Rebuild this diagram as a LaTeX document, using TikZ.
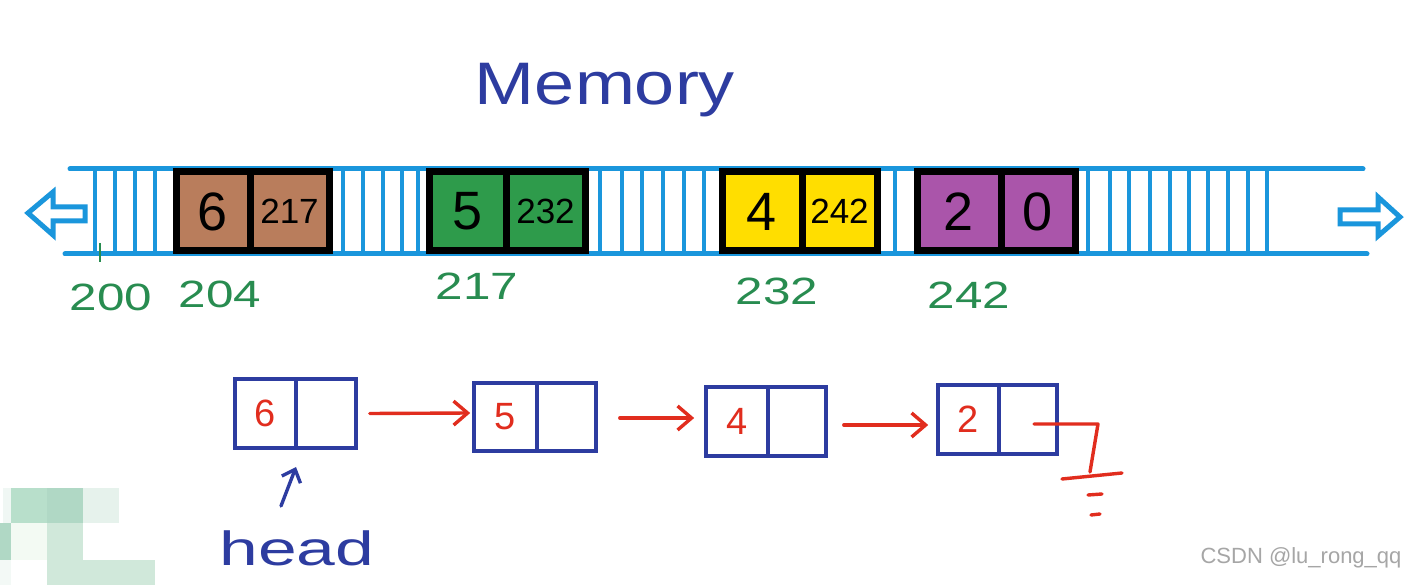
\documentclass[tikz,border=0pt]{standalone}
\usepackage{fontspec}
\setmainfont{Liberation Sans}
\usetikzlibrary{arrows.meta}
\definecolor{stripblue}{RGB}{26,150,220}
\definecolor{cbrown}{RGB}{185,125,92}
\definecolor{cgreen}{RGB}{46,155,75}
\definecolor{cyellow}{RGB}{255,222,0}
\definecolor{cpurple}{RGB}{170,85,170}
\definecolor{lblgreen}{RGB}{40,140,80}
\definecolor{dblue}{RGB}{45,60,160}
\definecolor{cred}{RGB}{225,45,30}
\definecolor{wm1}{RGB}{184,223,203}
\definecolor{wm2}{RGB}{176,216,197}
\definecolor{wm3}{RGB}{230,242,236}
\definecolor{wm4}{RGB}{208,232,218}
\definecolor{wm5}{RGB}{243,250,243}
\tikzset{
  stripline/.style={stripblue, line width=5pt, line cap=round},
  slot/.style={stripblue, line width=3.4pt},
  blockarrow/.style={stripblue, line width=5pt, fill=white, line join=miter},
  memcell/.style={draw=black, line width=7pt, rectangle, inner sep=0pt, minimum height=79pt,
     font=\fontsize{54}{54}\selectfont, text=black},
  ptrcell/.style={memcell, font=\fontsize{35}{35}\selectfont},
  addr/.style={text=lblgreen, font=\fontsize{38}{38}\selectfont, xscale=1.3},
  lcell/.style={draw=dblue, line width=3.6pt, rectangle, inner sep=0pt,
     font=\fontsize{38}{38}\selectfont, text=cred},
  redarrow/.style={cred, line width=3.4pt, line cap=round, -{Straight Barb[length=14pt,width=24pt,line width=3.4pt]}},
  redline/.style={cred, line width=3.4pt, line cap=round},
}
\begin{document}
\begin{tikzpicture}[x=1pt,y=-1pt]
\useasboundingbox (0,0) rectangle (1409,585);
\fill[white] (0,0) rectangle (1409,585);

% title
\node[text=dblue, font=\fontsize{60}{60}\selectfont, xscale=1.2, anchor=base] (title) at (605,105) {Memory};

% memory strip
\draw[stripline] (70,169) -- (1363,169);
\draw[stripline] (65,254) -- (1367,254);
\foreach \x in {95,115,135,155, 343,363,383,402,418, 600,622,642,663,684,704, 895,
                1088,1110,1129,1150,1170,1189,1208,1228,1248,1267}
  \draw[slot] (\x,169) -- (\x,254);
\draw[lblgreen, line width=2pt] (100,243) -- (100,262);

% block arrows
\draw[blockarrow] (85,207) -- (53,207) -- (53,192) -- (28,213) -- (53,235) -- (53,221) -- (85,221) -- cycle;
\draw[blockarrow] (1340,210) -- (1378,210) -- (1378,197) -- (1400,217) -- (1378,236) -- (1378,224) -- (1340,224) -- cycle;

% memory blocks
\node[memcell, fill=cbrown, minimum width=74pt] (m1a) at (213,211.5) {6};
\node[ptrcell, fill=cbrown, minimum width=79pt] (m1b) at (289.5,211.5) {217};
\node[memcell, fill=cgreen, minimum width=77pt] (m2a) at (467.5,211.5) {5};
\node[ptrcell, fill=cgreen, minimum width=79pt] (m2b) at (545.5,211.5) {232};
\node[memcell, fill=cyellow, minimum width=80pt] (m3a) at (762,211.5) {4};
\node[ptrcell, fill=cyellow, minimum width=75pt] (m3b) at (839.5,211.5) {242};
\node[memcell, fill=cpurple, minimum width=84pt] (m4a) at (959,211.5) {2};
\node[memcell, fill=cpurple, minimum width=74pt] (m4b) at (1038,211.5) {0};

% addresses
\node[addr] (a200) at (111,297) {200};
\node[addr] (a204) at (220,294) {204};
\node[addr] (a217) at (477,286) {217};
\node[addr] (a232) at (777,291) {232};
\node[addr] (a242) at (969,295) {242};

% linked list
\node[lcell, minimum width=61pt, minimum height=69pt] (n1a) at (265.5,413.5) {6};
\node[lcell, minimum width=60pt, minimum height=69pt] (n1b) at (326,413.5) {};
\node[lcell, minimum width=63pt, minimum height=68pt] (n2a) at (505.5,417) {5};
\node[lcell, minimum width=59pt, minimum height=68pt] (n2b) at (566.5,417) {};
\node[lcell, minimum width=62pt, minimum height=69pt] (n3a) at (737,421.5) {4};
\node[lcell, minimum width=58pt, minimum height=69pt] (n3b) at (797,421.5) {};
\node[lcell, minimum width=61pt, minimum height=69pt] (n4a) at (968.5,419.5) {2};
\node[lcell, minimum width=58pt, minimum height=69pt] (n4b) at (1028,419.5) {};

\draw[redarrow] ([xshift=12pt]n1b.east) -- ([xshift=-2pt,yshift=4pt]n2a.west);
\draw[redarrow] ([xshift=22pt,yshift=-1pt]n2b.east) -- ([xshift=-10pt,yshift=3.5pt]n3a.west);
\draw[redarrow] ([xshift=16pt,yshift=-3.5pt]n3b.east) -- ([xshift=-8pt,yshift=-5.5pt]n4a.west);

% null pointer (ground)
\coordinate (g0) at ([xshift=6pt,yshift=-4.5pt]n4b.center);
\coordinate (g1) at (1098,424);
\coordinate (g2) at (1090,472);
\draw[redline, line join=round] (g0) -- (g1) -- (g2);
\coordinate (gl) at (1062,479);
\coordinate (gr) at (1122,473);
\draw[redline] (gl) -- (gr);
\coordinate (d1l) at (1088,495);
\coordinate (d1r) at (1102,494);
\draw[redline] (d1l) -- (d1r);
\coordinate (d2l) at (1091,515);
\coordinate (d2r) at (1100,514);
\draw[redline] (d2l) -- (d2r);

% head
\node[text=dblue, font=\fontsize{48}{48}\selectfont, xscale=1.45, anchor=base] (head) at (297,565) {head};
\coordinate (htail) at (281,506);
\coordinate (htip) at (296,467);
\draw[dblue, line width=3.4pt, line cap=round, -{Straight Barb[length=11pt,width=20pt,line width=3.4pt]}] (htail) -- (htip);

% watermark
\fill[wm3!60] (3,488) rectangle (11,523);
\fill[wm1] (11,488) rectangle (47,523);
\fill[wm2] (47,488) rectangle (83,523);
\fill[wm3] (83,488) rectangle (119,523);
\fill[wm2] (0,523) rectangle (11,560);
\fill[wm5] (11,523) rectangle (47,560);
\fill[wm4] (47,523) rectangle (83,560);
\fill[wm3!50] (0,560) rectangle (11,585);
\fill[wm4] (47,560) rectangle (155,585);
\node[text=black!35, font=\fontsize{22}{22}\selectfont, anchor=east] (wm) at (1405,558) {CSDN @lu\_rong\_qq};
\end{tikzpicture}
\end{document}
